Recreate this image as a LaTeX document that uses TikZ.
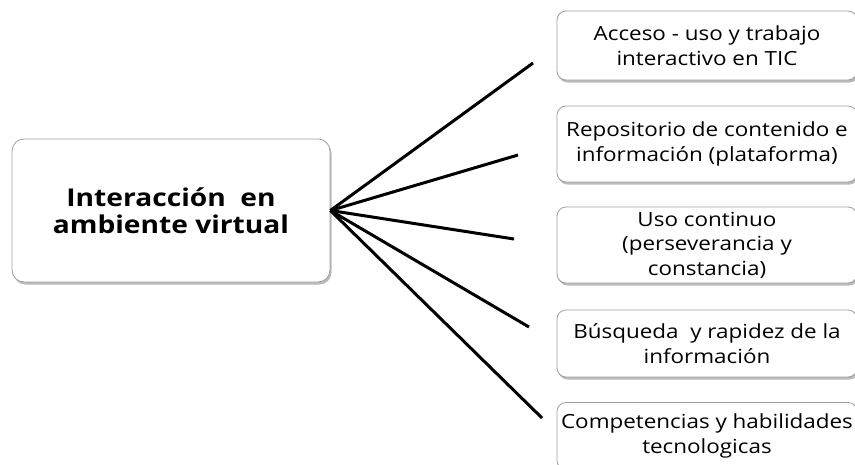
\documentclass[tikz,border=0pt]{standalone}
\usepackage{fontspec}
\setmainfont[FakeStretch=1.15]{Open Sans}
\usepackage{tikz}
\usetikzlibrary{shadows,positioning}

\tikzset{
  box/.style={draw=gray!75, line width=0.8pt, rounded corners=9pt, fill=white,
    align=center, minimum width=300pt, inner sep=2pt,
    font=\fontsize{19.5}{24.5}\selectfont,
    drop shadow={shadow xshift=1.5pt, shadow yshift=-2.5pt, opacity=0.45, fill=black!60}},
  mainbox/.style={box, minimum width=318pt, minimum height=143pt, rounded corners=12pt,
    font=\fontsize{24.5}{27.5}\selectfont\bfseries},
  spoke/.style={line width=3pt},
}

\begin{document}
\begin{tikzpicture}[x=1pt, y=-1pt]
    \useasboundingbox (0,0) rectangle (855,464);
    \node [mainbox] (main) at (171, 210.5) {Interacción\ \ en\\ambiente virtual};
    % Right column
    \node [box, minimum height=69pt] (acceso) at (707, 45.5) {Acceso - uso y trabajo\\interactivo en TIC};
    \node [box, minimum height=76pt] (repo) at (707, 144) {Repositorio de contenido e\\información (plataforma)};
    \node [box, minimum height=76pt] (uso) at (707, 245) {Uso continuo\\(perseverancia y\\constancia)};
    \node [box, minimum height=67pt] (busq) at (707, 343.5) {Búsqueda\ \ y rapidez de la\\información};
    \node [box, minimum height=67pt] (comp) at (707, 436) {Competencias y habilidades\\tecnologicas};
    % Spoke ends
    \coordinate (e1) at (533, 63);
    \coordinate (e2) at (518, 155);
    \coordinate (e3) at (514, 239);
    \coordinate (e4) at (529, 327);
    \coordinate (e5) at (542, 418);
    \foreach \e in {e1,e2,e3,e4,e5}
        \draw [spoke] (main.east) -- (\e);
\end{tikzpicture}
\end{document}
